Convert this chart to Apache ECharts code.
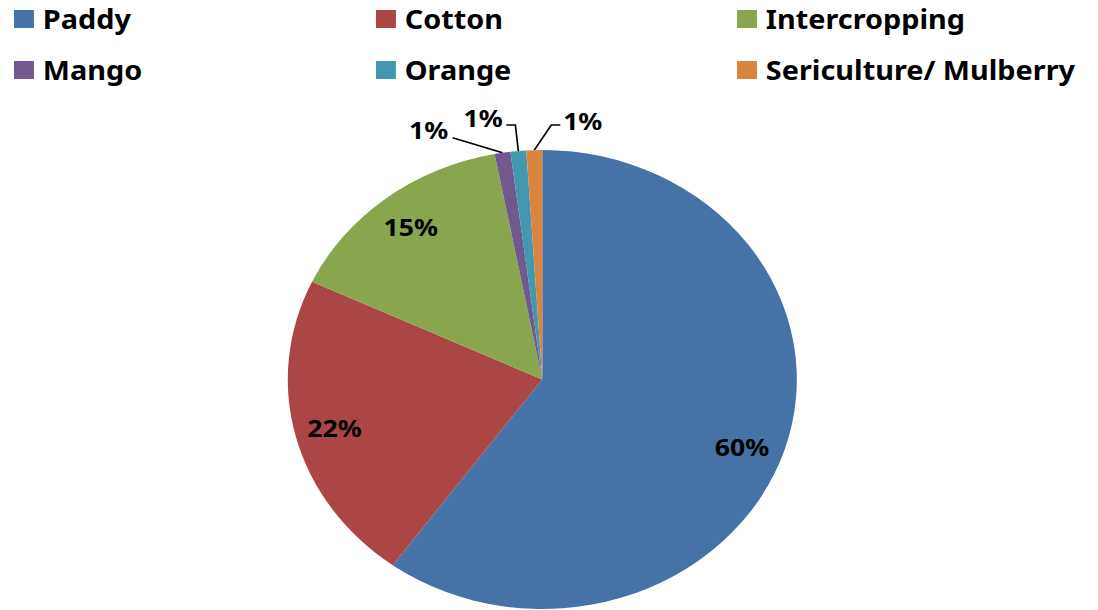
<!DOCTYPE html>
<html>
<head>
<meta charset="utf-8">
<script src="https://cdn.jsdelivr.net/npm/echarts@6/dist/echarts.min.js"></script>
<style>
  html, body { margin: 0; padding: 0; background: #fff; overflow: hidden; }
  #wrap { width: 1098px; height: 610px; overflow: hidden; }
  /* the pie is drawn wider than tall, so the whole drawing is stretched horizontally */
  #chart { width: 990px; height: 610px; transform: scaleX(1.109); transform-origin: 0 0; }
</style>
</head>
<body>
<div id="wrap"><div id="chart"></div></div>
<script>
const categories = ['Paddy', 'Cotton', 'Intercropping', 'Mango', 'Orange', 'Sericulture/ Mulberry'];
const shares = [60, 22, 15, 1, 1, 1];
const colors = ['#4572A7', '#AA4643', '#89A54E', '#71588F', '#4198AF', '#DB843D'];
const legendColumns = [
  ['Paddy', 'Mango'],
  ['Cotton', 'Orange'],
  ['Intercropping', 'Sericulture/ Mulberry']
];

const FONT = '"Noto Sans", "Open Sans", sans-serif';
const CENTER = [489, 379.5];
const RADIUS = 229.5;

// callouts for the thin slices: bend offsets and label offsets from the slice edge point
const callouts = {
  3: { line: [[-45, -15]], label: [-49, -23], align: 'right' },
  4: { line: [[-2.7, -26], [-10.8, -26]], label: [-14, -33], align: 'right' },
  5: { line: [[15.3, -25], [23.4, -25]], label: [26, -30], align: 'left' }
};

const legendX = [12.6, 339, 664.6];
const legends = legendColumns.map((names, i) => ({
  orient: 'vertical',
  left: legendX[i],
  top: 4,
  padding: 0,
  itemWidth: 18,
  itemHeight: 18,
  itemGap: 21,
  icon: 'rect',
  selectedMode: false,
  textStyle: {
    fontFamily: FONT, fontWeight: 'bold', fontSize: 26, color: '#000',
    lineHeight: 30, padding: [0, 0, 0, 3]
  },
  data: names.map(n => ({ name: n, itemStyle: { color: colors[categories.indexOf(n)] } }))
}));

const mainData = categories.map((name, i) => ({
  name,
  value: shares[i],
  itemStyle: { color: colors[i] },
  label: { show: i >= 3 },
  labelLine: { show: i >= 3 }
}));

const ringData = categories.map((name, i) => ({
  name,
  value: shares[i],
  label: i === 0 ? { show: true, offset: [-4, 7] } : { show: i < 3 }
}));

const chart = echarts.init(document.getElementById('chart'), null, { renderer: 'svg' });
chart.setOption({
  animation: false,
  backgroundColor: '#fff',
  legend: legends,
  series: [
    {
      type: 'pie',
      center: CENTER,
      radius: RADIUS,
      startAngle: 90,
      clockwise: true,
      avoidLabelOverlap: false,
      silent: true,
      itemStyle: { borderWidth: 0 },
      label: {
        position: 'outside',
        formatter: p => p.value + '%',
        fontFamily: FONT, fontWeight: 'bold', fontSize: 24, color: '#000'
      },
      labelLine: { length: 10, length2: 10, lineStyle: { color: '#000', width: 1.5 } },
      labelLayout: params => {
        const c = callouts[params.dataIndex];
        if (!c || !params.labelLinePoints) return {};
        const a = params.labelLinePoints[0];
        const pts = [[a[0], a[1]]].concat(c.line.map(d => [a[0] + d[0], a[1] + d[1]]));
        return {
          x: a[0] + c.label[0],
          y: a[1] + c.label[1],
          align: c.align,
          verticalAlign: 'middle',
          labelLinePoints: pts
        };
      },
      data: mainData
    },
    {
      // transparent ring that carries the percentage labels of the large slices
      type: 'pie',
      center: CENTER,
      radius: [RADIUS * 0.66, RADIUS],
      startAngle: 90,
      clockwise: true,
      silent: true,
      itemStyle: { color: 'transparent', borderWidth: 0 },
      label: {
        position: 'inside',
        formatter: p => p.value + '%',
        fontFamily: FONT, fontWeight: 'bold', fontSize: 24, color: '#000'
      },
      labelLine: { show: false },
      data: ringData
    }
  ]
});
</script>
</body>
</html>
